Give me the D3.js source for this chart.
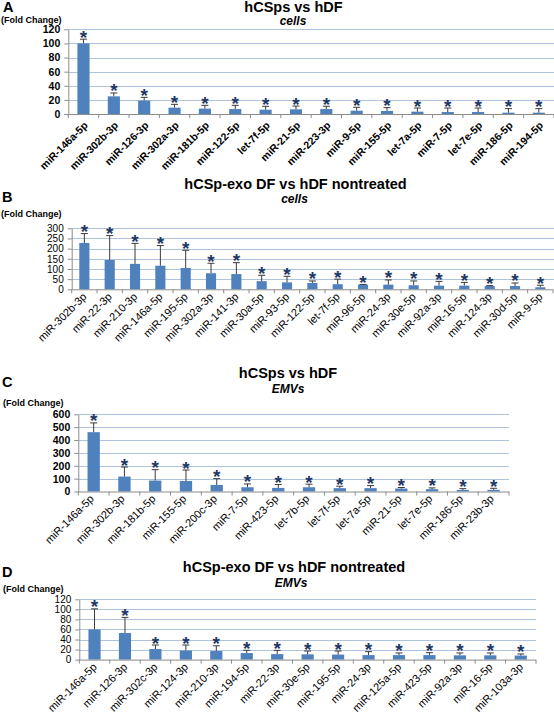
<!DOCTYPE html>
<html>
<head>
<meta charset="utf-8">
<script src="https://cdn.jsdelivr.net/npm/d3@7"></script>
<style>
  html, body { margin: 0; padding: 0; background: #fff; }
  svg { display: block; font-family: "Liberation Sans", Arial, sans-serif; }
</style>
</head>
<body>
<svg id="chart" width="554" height="716"></svg>
<script>
// ---------- DATA ----------
// Panel A: hCSps vs hDF (cells)
const catsA = ["miR-146a-5p","miR-302b-3p","miR-126-3p","miR-302a-3p","miR-181b-5p","miR-122-5p","let-7f-5p","miR-21-5p","miR-223-3p","miR-9-5p","miR-155-5p","let-7a-5p","miR-7-5p","let-7e-5p","miR-186-5p","miR-194-5p"];
const valsA = [100, 25, 19, 9, 7.6, 7, 6.1, 6.6, 7, 4.7, 4.3, 3.3, 2.8, 2.8, 1.9, 1.9];
const errA  = [6, 4.8, 4.6, 4.7, 4.7, 5.3, 4.8, 4.7, 4, 4.8, 4.7, 5.2, 5.7, 5.7, 5.7, 5.7];
const ticksA = [0, 20, 40, 60, 80, 100, 120];

// Panel B: hCSp-exo DF vs hDF nontreated (cells)
const catsB = ["miR-302b-3p","miR-22-3p","miR-210-3p","miR-146a-5p","miR-195-5p","miR-302a-3p","miR-141-3p","miR-30a-5p","miR-93-5p","miR-122-5p","let-7f-5p","miR-96-5p","miR-24-3p","miR-30e-5p","miR-92a-3p","miR-16-5p","miR-124-3p","miR-30d-5p","miR-9-5p"];
const valsB = [228, 144, 125, 116, 105, 79, 75, 40, 34, 31, 25, 23, 23, 20, 18, 18, 16, 16, 10];
const errB  = [46, 120, 101, 99, 87, 49, 56, 29, 30, 10, 25, 1, 23, 21, 21, 16, 2, 15, 10];
const ticksB = [0, 50, 100, 150, 200, 250, 300];

// Panel C: hCSps vs hDF (EMVs)
const catsC = ["miR-146a-5p","miR-302b-3p","miR-181b-5p","miR-155-5p","miR-200c-3p","miR-7-5p","miR-423-5p","let-7b-5p","let-7f-5p","let-7a-5p","miR-21-5p","let-7e-5p","miR-186-5p","miR-23b-3p"];
const valsC = [461, 116, 85, 82, 51, 33, 28, 33, 26, 26, 23, 18, 12, 13];
const errC  = [72, 74, 85, 85, 49, 26, 26, 24, 15, 20, 8, 10, 10, 12];
const ticksC = [0, 100, 200, 300, 400, 500, 600];

// Panel D: hCSp-exo DF vs hDF nontreated (EMVs)
const catsD = ["miR-146a-5p","miR-126-3p","miR-302c-3p","miR-124-3p","miR-210-3p","miR-194-5p","miR-22-3p","miR-30e-5p","miR-195-5p","miR-24-3p","miR-125a-5p","miR-423-5p","miR-92a-3p","miR-16-5p","miR-103a-3p"];
const valsD = [60, 53, 21, 18, 17, 13, 11, 10.5, 10, 9, 9, 9, 8.5, 8.5, 8];
const errD  = [41, 31, 8, 11, 10.5, 5.5, 7.4, 6.5, 7, 6.8, 4.2, 4.8, 4.7, 4.7, 3.2];
const ticksD = [0, 20, 40, 60, 80, 100, 120];

// ---------- STYLE / LAYOUT ----------
const BAR = "#4F81BD", STAR = "#1F3864", GRID = "#AFC3DF", AXIS = "#8C8C8C", ERR = "#3a3a3a";

const panels = [
  { letter: "A", title: "hCSps vs hDF", sub: "cells", cats: catsA, vals: valsA, errs: errA, ticks: ticksA,
    x0: 68.3, x1: 554, y0: 114, yTop: 29.3, gridEnd: 554,
    letterXY: [3, 12], titleXY: [293.5, 11.5], subXY: [293, 25], fcXY: [1, 22.5],
    yFont: "bold", yFs: 10.5, xFont: "bold", xFs: 10.5, lab: [5, 12] },
  { letter: "B", title: "hCSp-exo DF vs hDF nontreated", sub: "cells", cats: catsB, vals: valsB, errs: errB, ticks: ticksB,
    x0: 71.7, x1: 553, y0: 289.3, yTop: 228.3, gridEnd: 554,
    letterXY: [2, 202], titleXY: [295.5, 189.3], subXY: [294.5, 203.3], fcXY: [1, 217],
    yFont: "normal", yFs: 10, xFont: "normal", xFs: 11, lab: [3, 8] },
  { letter: "C", title: "hCSps vs hDF", sub: "EMVs", cats: catsC, vals: valsC, errs: errC, ticks: ticksC,
    x0: 78.3, x1: 509, y0: 491.5, yTop: 414.3, gridEnd: 509,
    letterXY: [2, 387], titleXY: [288, 378.3], subXY: [288, 393.3], fcXY: [3, 406],
    yFont: "bold", yFs: 10.5, xFont: "normal", xFs: 11, lab: [1, 8] },
  { letter: "D", title: "hCSp-exo DF vs hDF nontreated", sub: "EMVs", cats: catsD, vals: valsD, errs: errD, ticks: ticksD,
    x0: 79.3, x1: 536, y0: 659.6, yTop: 599.3, gridEnd: 536,
    letterXY: [2, 577], titleXY: [294, 571.7], subXY: [291, 587.3], fcXY: [3, 592],
    yFont: "normal", yFs: 10, xFont: "normal", xFs: 11, lab: [3, 8] }
];

const svg = d3.select("#chart");

panels.forEach(p => {
  const g = svg.append("g");
  const maxV = p.ticks[p.ticks.length - 1];
  const x = d3.scaleBand().domain(p.cats).range([p.x0, p.x1]).paddingInner(0.6).paddingOuter(0.3);
  const y = d3.scaleLinear().domain([0, maxV]).range([p.y0, p.yTop]);

  // texts
  g.append("text").attr("x", p.letterXY[0]).attr("y", p.letterXY[1])
    .attr("font-size", 14.5).attr("font-weight", "bold").text(p.letter);
  g.append("text").attr("x", p.titleXY[0]).attr("y", p.titleXY[1]).attr("text-anchor", "middle")
    .attr("font-size", 14.5).attr("font-weight", "bold").text(p.title);
  g.append("text").attr("x", p.subXY[0]).attr("y", p.subXY[1]).attr("text-anchor", "middle")
    .attr("font-size", 12).attr("font-weight", "bold").attr("font-style", "italic").text(p.sub);
  g.append("text").attr("x", p.fcXY[0]).attr("y", p.fcXY[1])
    .attr("font-size", 9).attr("font-weight", "bold").text("(Fold Change)");

  // gridlines
  g.append("g").selectAll("line").data(p.ticks.filter(t => t > 0)).join("line")
    .attr("x1", p.x0).attr("x2", p.gridEnd)
    .attr("y1", d => Math.round(y(d)) + 0.5).attr("y2", d => Math.round(y(d)) + 0.5)
    .attr("stroke", GRID).attr("stroke-width", 1.2);

  // y axis
  const ya = g.append("g").attr("transform", `translate(${p.x0},0)`)
    .call(d3.axisLeft(y).tickValues(p.ticks).tickSize(4).tickPadding(4).tickSizeOuter(0));
  ya.select(".domain").attr("stroke", AXIS);
  ya.selectAll(".tick line").attr("stroke", AXIS);
  ya.selectAll(".tick text").attr("font-size", p.yFs).attr("font-weight", p.yFont)
    .attr("fill", "#000").attr("font-family", "Liberation Sans, Arial, sans-serif");

  // bars
  g.append("g").selectAll("rect").data(p.cats).join("rect")
    .attr("x", d => x(d)).attr("width", x.bandwidth())
    .attr("y", (d, i) => y(p.vals[i])).attr("height", (d, i) => y(0) - y(p.vals[i]))
    .attr("fill", BAR);

  // error bars (upper only)
  const eg = g.append("g").attr("stroke", ERR).attr("stroke-width", 1);
  p.cats.forEach((c, i) => {
    const cx = x(c) + x.bandwidth() / 2;
    const top = y(p.vals[i] + p.errs[i]);
    eg.append("line").attr("x1", cx).attr("x2", cx).attr("y1", y(p.vals[i])).attr("y2", top);
    eg.append("line").attr("x1", cx - 3.5).attr("x2", cx + 3.5).attr("y1", top).attr("y2", top);
  });

  // stars
  g.append("g").selectAll("text").data(p.cats).join("text")
    .attr("x", d => x(d) + x.bandwidth() / 2)
    .attr("y", (d, i) => y(p.vals[i] + p.errs[i]) + 4.5)
    .attr("text-anchor", "middle").attr("font-size", 19).attr("font-weight", "bold")
    .attr("fill", STAR).text("*");

  // x axis line and category ticks
  const xa = g.append("g");
  xa.append("line").attr("x1", p.x0).attr("x2", p.x1).attr("y1", p.y0 + 0.5).attr("y2", p.y0 + 0.5)
    .attr("stroke", AXIS);
  const bounds = p.cats.map(c => x(c) - x.step() * 0.3).concat([p.x1]);
  xa.selectAll("line.tk").data(bounds).join("line").attr("class", "tk")
    .attr("x1", d => d).attr("x2", d => d).attr("y1", p.y0).attr("y2", p.y0 + 4)
    .attr("stroke", AXIS);

  // x labels
  xa.selectAll("text").data(p.cats).join("text")
    .attr("transform", d => `translate(${x(d) + x.bandwidth() / 2 + p.lab[0]},${p.y0 + p.lab[1]}) rotate(-45)`)
    .attr("text-anchor", "end").attr("font-size", p.xFs).attr("font-weight", p.xFont)
    .text(d => d);
});
</script>
</body>
</html>
